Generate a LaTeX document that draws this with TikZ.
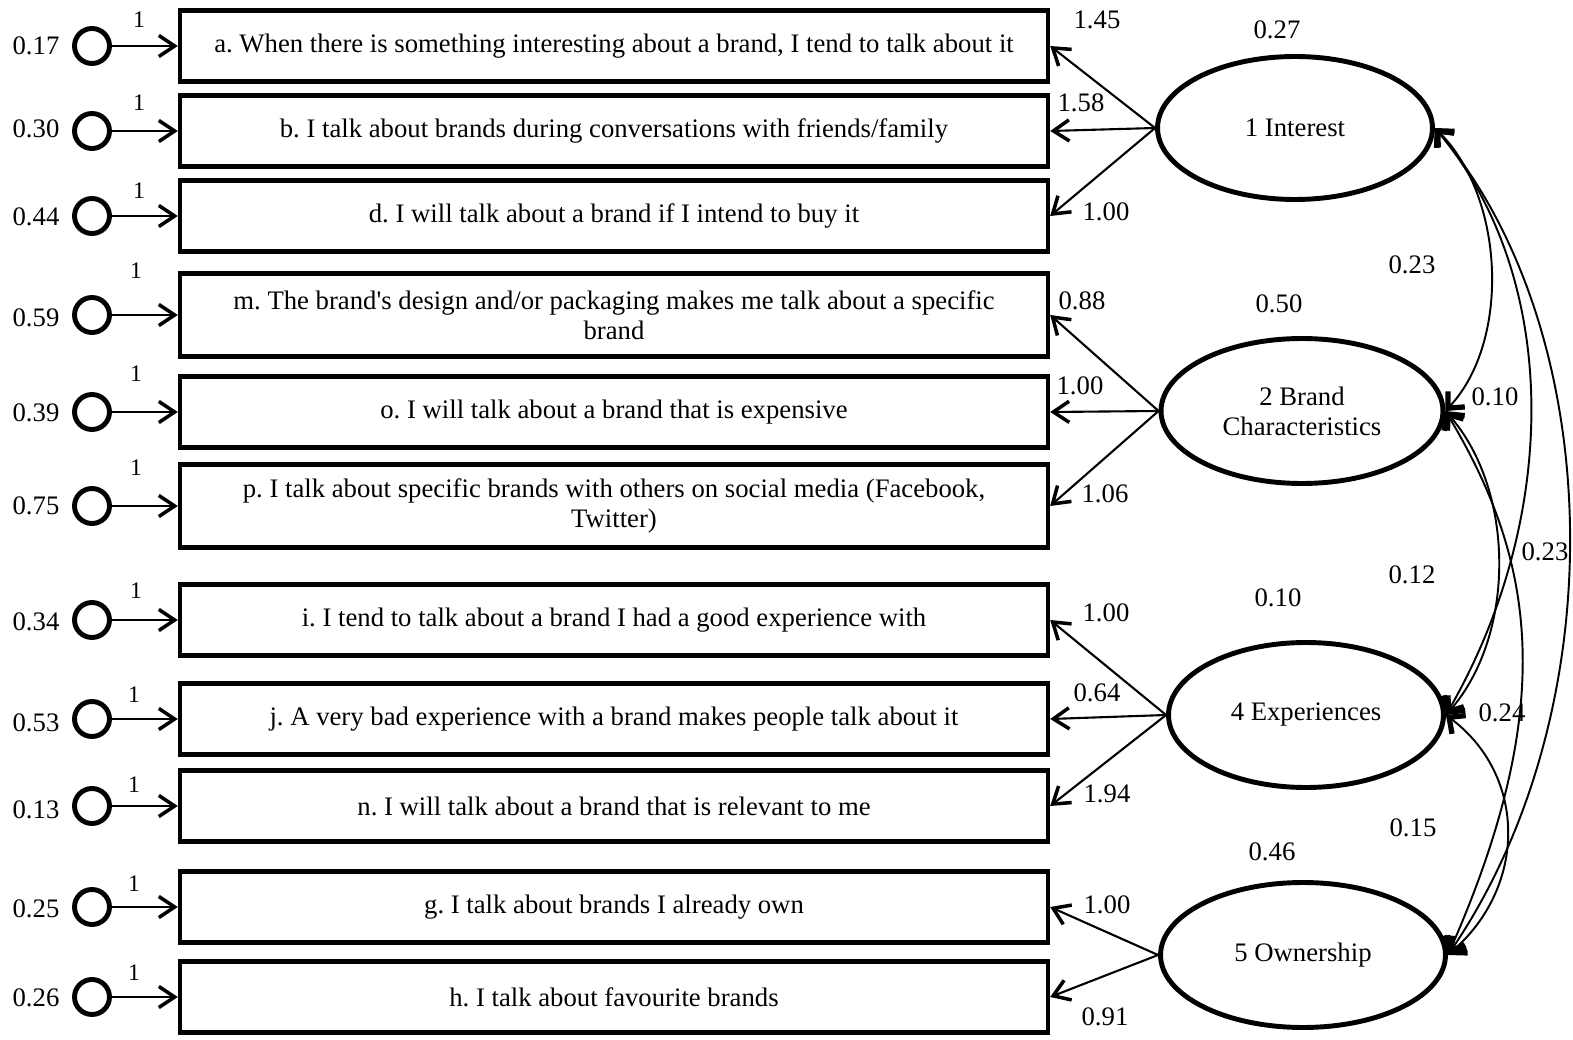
\documentclass[tikz,border=0pt]{standalone}
\usepackage{fontspec}
\setmainfont{Liberation Serif}
\usetikzlibrary{arrows.meta,shapes.geometric}
\frenchspacing

\begin{document}
\begin{tikzpicture}[x=0.02cm, y=-0.02cm,%
font=\fontsize{15.2}{17}\selectfont,
% common options for the item boxes:
item/.style = {draw, line width=2.6pt, align=center, minimum width=17.36cm,
            minimum height=1.42cm, inner sep=0},
item2/.style = {item, minimum height=1.66cm},
% common options for the error circles:
err/.style = {circle, draw, line width=2.8pt, minimum size=0.7cm, inner sep=0},
% common options for the factors:
factor/.style = {ellipse, draw, line width=2.8pt, align=center, inner sep=0,
            minimum height=2.9cm},
% common options for arrows and numbers:
load/.style = {line width=1.2pt, -{Straight Barb[length=9pt,width=12pt,line width=2pt]}},
cov/.style = {line width=1.1pt, {Straight Barb[length=7pt,width=13pt,line width=3pt]}-{Straight Barb[length=7pt,width=13pt,line width=3pt]}},
num/.style = {inner sep=1pt},
one/.style = {inner sep=1pt, font=\fontsize{13.5}{15}\selectfont}]
\useasboundingbox (0,0) rectangle (1573,1040);
% items
\node[item] (Qa) at (614,46) {a. When there is something interesting about a brand, I tend to talk about it};
\node[item] (Qb) at (614,131) {b. I talk about brands during conversations with friends/family};
\node[item] (Qd) at (614,216) {d. I will talk about a brand if I intend to buy it};
\node[item2] (Qm) at (614,315) {m. The brand\textquotesingle s design and/or packaging makes me talk about a specific\\brand};
\node[item] (Qo) at (614,412) {o. I will talk about a brand that is expensive};
\node[item2] (Qp) at (614,506) {p. I talk about specific brands with others on social media (Facebook,\\Twitter)};
\node[item] (Qi) at (614,620) {i. I tend to talk about a brand I had a good experience with};
\node[item] (Qj) at (614,719) {j. A very bad experience with a brand makes people talk about it};
\node[item] (Qn) at (614,806) {n. I will talk about a brand that is relevant to me};
\node[item] (Qg) at (614,907) {g. I talk about brands I already own};
\node[item] (Qh) at (614,997) {h. I talk about favourite brands};
% errors
\node[err] (Ea) at (92,46) {};
\node[err] (Eb) at (92,131) {};
\node[err] (Ed) at (92,216) {};
\node[err] (Em) at (92,315) {};
\node[err] (Eo) at (92,412) {};
\node[err] (Ep) at (92,506) {};
\node[err] (Ei) at (92,620) {};
\node[err] (Ej) at (92,719) {};
\node[err] (En) at (92,806) {};
\node[err] (Eg) at (92,907) {};
\node[err] (Eh) at (92,997) {};
\node[num] (ea) at (36,46) {0.17};
\node[num] (eb) at (36,129) {0.30};
\node[num] (ed) at (36,217) {0.44};
\node[num] (em) at (36,318) {0.59};
\node[num] (eo) at (36,413) {0.39};
\node[num] (ep) at (36,506) {0.75};
\node[num] (ei) at (36,622) {0.34};
\node[num] (ej) at (36,723) {0.53};
\node[num] (en) at (36,810) {0.13};
\node[num] (eg) at (36,909) {0.25};
\node[num] (eh) at (36,998) {0.26};
\node[one] (oa) at (139,20) {1};
\node[one] (ob) at (139,103) {1};
\node[one] (od) at (139,191) {1};
\node[one] (om) at (136,271) {1};
\node[one] (oo) at (136,374) {1};
\node[one] (op) at (136,468) {1};
\node[one] (oi) at (136,591) {1};
\node[one] (oj) at (134,695) {1};
\node[one] (on) at (134,785) {1};
\node[one] (og) at (134,884) {1};
\node[one] (oh) at (134,973) {1};
\draw[load] (Ea.east) -- (Qa.west);
\draw[load] (Eb.east) -- (Qb.west);
\draw[load] (Ed.east) -- (Qd.west);
\draw[load] (Em.east) -- (Qm.west);
\draw[load] (Eo.east) -- (Qo.west);
\draw[load] (Ep.east) -- (Qp.west);
\draw[load] (Ei.east) -- (Qi.west);
\draw[load] (Ej.east) -- (Qj.west);
\draw[load] (En.east) -- (Qn.west);
\draw[load] (Eg.east) -- (Qg.west);
\draw[load] (Eh.east) -- (Qh.west);
% factors
\node[factor, minimum width=5.5cm, minimum height=2.86cm] (F1) at (1295,128) {1 Interest};
\node[factor, minimum width=5.64cm] (F2) at (1302,411) {2 Brand\\Characteristics};
\node[factor, minimum width=5.5cm] (F4) at (1306,715) {4 Experiences};
\node[factor, minimum width=5.7cm] (F5) at (1303,955) {5 Ownership};
\node[num] (v1) at (1277,30) {0.27};
\node[num] (v2) at (1279,304) {0.50};
\node[num] (v4) at (1278,598) {0.10};
\node[num] (v5) at (1272,852) {0.46};
\draw[load] (F1.west) -- (Qa.east);
\draw[load] (F1.west) -- (Qb.east);
\draw[load] (F1.west) -- (Qd.east);
\draw[load] (F2.west) -- (Qm.east);
\draw[load] (F2.west) -- (Qo.east);
\draw[load] (F2.west) -- (Qp.east);
\draw[load] (F4.west) -- (Qi.east);
\draw[load] (F4.west) -- (Qj.east);
\draw[load] (F4.west) -- (Qn.east);
\draw[load] (F5.west) -- (Qg.east);
\draw[load] (F5.west) -- (Qh.east);
\node[num] (la) at (1097,20) {1.45};
\node[num] (lb) at (1081,103) {1.58};
\node[num] (ld) at (1106,212) {1.00};
\node[num] (lm) at (1082,301) {0.88};
\node[num] (lo) at (1080,386) {1.00};
\node[num] (lp) at (1105,494) {1.06};
\node[num] (li) at (1106,613) {1.00};
\node[num] (lj) at (1097,693) {0.64};
\node[num] (ln) at (1107,794) {1.94};
\node[num] (lg) at (1107,905) {1.00};
\node[num] (lh) at (1105,1017) {0.91};
% covariances
\draw[cov] (F1.east) .. controls +(70,70) and +(65,-70) .. (F2.east);
\draw[cov] (F1.east) .. controls +(125,150) and +(115,-200) .. (F4.east);
\draw[cov] (F1.east) .. controls +(170,200) and +(170,-250) .. (F5.east);
\draw[cov] (F2.east) .. controls +(70,80) and +(70,-80) .. (F4.east);
\draw[cov] (F2.east) .. controls +(90,150) and +(110,-250) .. (F5.east);
\draw[cov] (F4.east) .. controls +(80,60) and +(80,-70) .. (F5.east);
\node[num] (c12) at (1412,265) {0.23};
\node[num] (c14) at (1495,397) {0.10};
\node[num] (c15) at (1545,552) {0.23};
\node[num] (c24) at (1412,575) {0.12};
\node[num] (c25) at (1502,713) {0.24};
\node[num] (c45) at (1413,828) {0.15};
\end{tikzpicture}
\end{document}
